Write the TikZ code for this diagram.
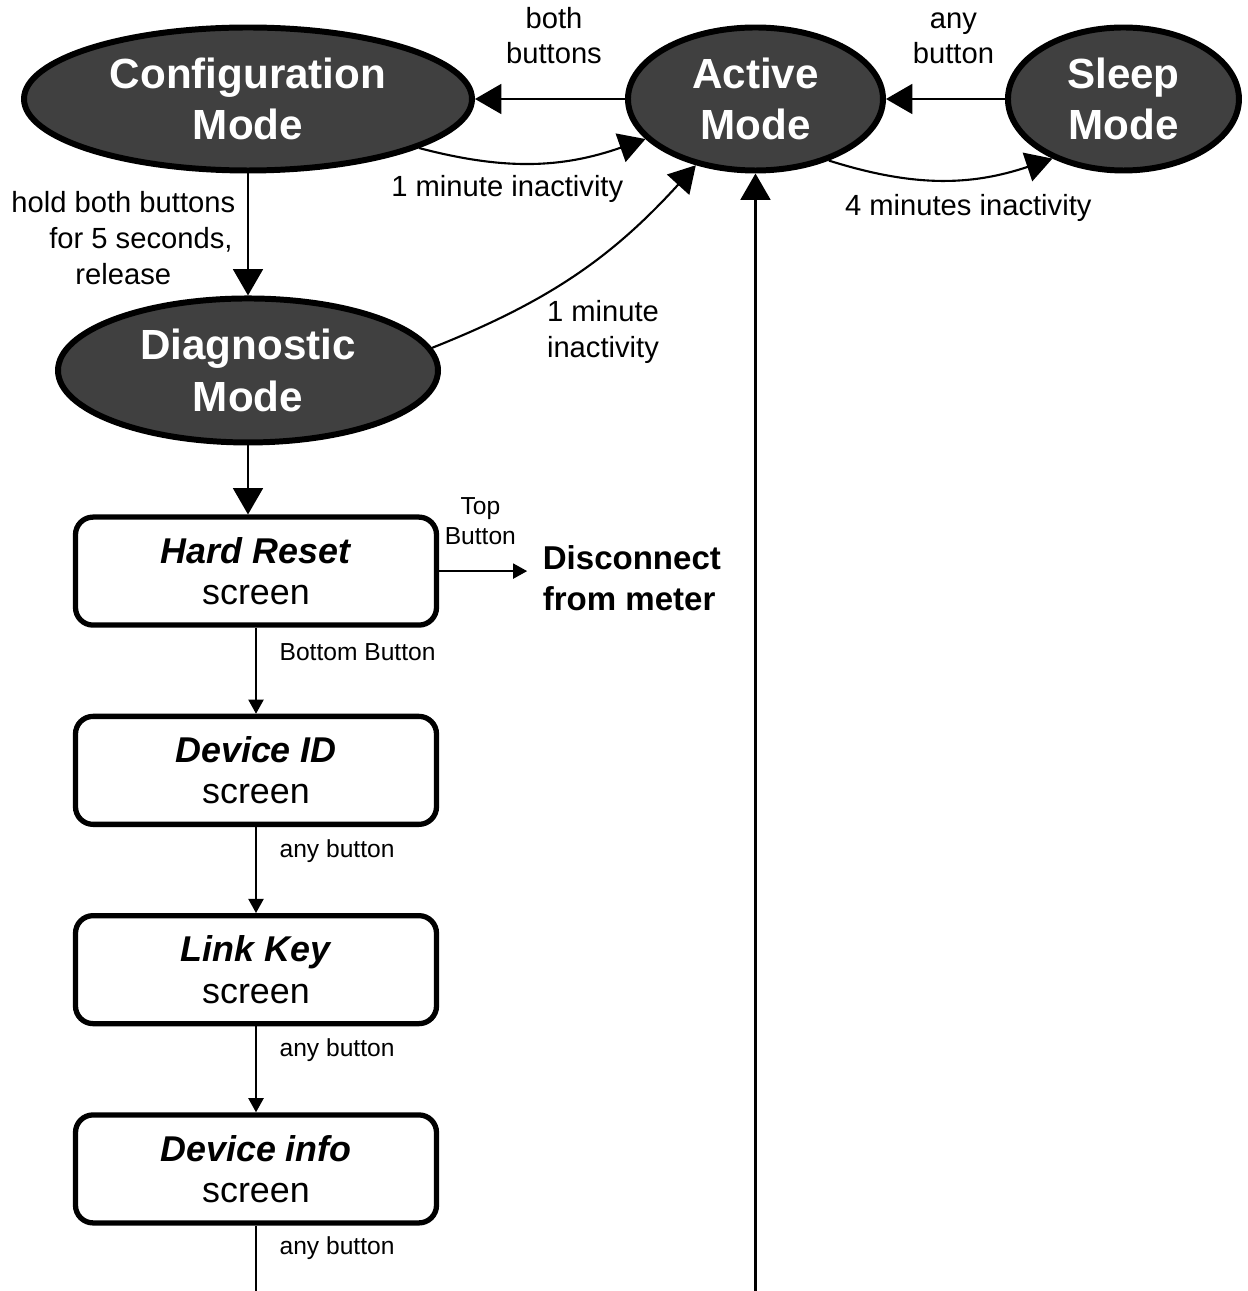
\documentclass[tikz,border=0pt]{standalone}
\usepackage{fontspec}
\setmainfont{Liberation Sans}
\usepackage{tikz}
\usetikzlibrary{shapes.geometric,positioning,arrows.meta}
\definecolor{modegrey}{HTML}{404040}
\tikzset{modestate/.style={ellipse,draw,fill=modegrey,text=white,line width=1.7pt,inner sep=0pt,align=center,font=\fontsize{12}{14.7}\selectfont\bfseries}}
\tikzset{screenbox/.style={rectangle,rounded corners=5pt,draw,line width=1.5pt,minimum width=3.61cm,minimum height=1.08cm,inner sep=0pt,align=center,font=\fontsize{10.2}{11.7}\selectfont}}
\tikzset{biglbl/.style={align=center,font=\fontsize{8.3}{10.2}\selectfont}}
\tikzset{smalllbl/.style={align=center,font=\fontsize{7}{8.5}\selectfont}}
\tikzset{bigarr/.style={-{Triangle[length=7.5pt,width=8.5pt]},line width=0.6pt}}
\tikzset{smallarr/.style={-{Triangle[length=4pt,width=4.3pt]},line width=0.5pt}}

\begin{document}
\begin{tikzpicture}
        \useasboundingbox (0,0) rectangle (12.47,-12.91);
        \coordinate (bottom) at (0,-12.91);

        \node[modestate,minimum width=4.48cm,minimum height=1.43cm] (config) at (2.48,-0.99) {Configuration\\Mode};
        \node[modestate,minimum width=2.55cm,minimum height=1.43cm,right=1.50cm of config] (active) {Active\\Mode};
        \node[modestate,minimum width=2.31cm,minimum height=1.43cm,right=1.19cm of active] (sleep) {Sleep\\Mode};
        \node[modestate,minimum width=3.80cm,minimum height=1.44cm,below=1.22cm of config] (diag) {Diagnostic\\Mode};

        \node[screenbox,below=0.69cm of diag,xshift=0.08cm] (hard) {\textbf{\textit{Hard Reset}}\\screen};
        \node[screenbox,below=0.86cm of hard] (devid) {\textbf{\textit{Device ID}}\\screen};
        \node[screenbox,below=0.86cm of devid] (link) {\textbf{\textit{Link Key}}\\screen};
        \node[screenbox,below=0.86cm of link] (info) {\textbf{\textit{Device info}}\\screen};
        \node[inner sep=0pt,align=left,font=\fontsize{9.4}{11.7}\selectfont\bfseries,right=1.03cm of hard,yshift=-0.07cm] (disc) {Disconnect\\from meter};

        \draw[bigarr] (active) -- node[biglbl,above=0.22cm,xshift=0.04cm] (lboth) {both\\buttons} (config);
        \draw[bigarr] (sleep) -- node[biglbl,above=0.22cm,xshift=0.08cm] (lwake) {any\\button} (active);
        \draw[bigarr] (config.-16) to[bend right=17] node[biglbl,pos=0.38,anchor=north] (lcfgidle) {1 minute inactivity} (active.200);
        \draw[bigarr] (active.-40) to[bend right=18] node[biglbl,pos=0.63,anchor=north,yshift=-0.03cm] (lactidle) {4 minutes inactivity} (sleep.220);
        \draw[bigarr] (config) -- node[biglbl,left,pos=0.53] (lhold) {hold both buttons\\\hspace*{10pt}for 5 seconds,\\release} (diag);
        \draw[bigarr] (diag.7) to[bend right=13] node[biglbl,pos=0.5,anchor=north,xshift=0.27cm,yshift=-0.14cm] (ldiagidle) {1 minute\\inactivity} (active.228);
        \draw[bigarr] (active.south |- bottom) -- (active);
        \draw[bigarr] (diag.south) -- (diag.south |- hard.north);

        \draw[smallarr,shorten >=0.15cm] (hard.east) -- node[smalllbl,above=0.14cm,pos=0.4] (ltop) {Top\\Button} (hard.east -| disc.west);
        \draw[smallarr] (hard) -- node[smalllbl,right=0.11cm,pos=0.28] (lbottom) {Bottom Button} (devid);
        \draw[smallarr] (devid) -- node[smalllbl,right=0.11cm,pos=0.28] (lany1) {any button} (link);
        \draw[smallarr] (link) -- node[smalllbl,right=0.11cm,pos=0.28] (lany2) {any button} (info);
        \draw[line width=0.5pt] (info) -- node[smalllbl,right=0.11cm,pos=0.35] (lany3) {any button} (info.south |- bottom);
    \end{tikzpicture}
\end{document}
